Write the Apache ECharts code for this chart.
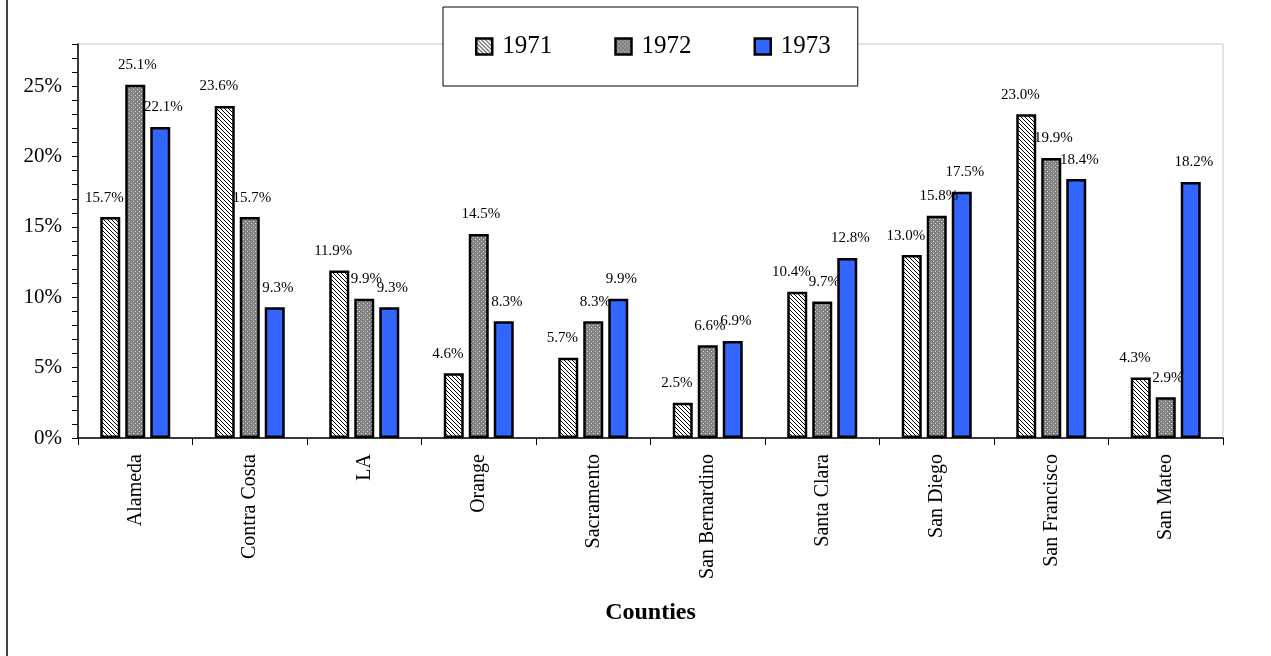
<!DOCTYPE html>
<html>
<head>
<meta charset="utf-8">
<title>Counties 1971-1973</title>
<script src="https://cdn.jsdelivr.net/npm/echarts@6/dist/echarts.min.js"></script>
<style>
  html, body { margin: 0; padding: 0; background: #fff; }
  #chart { width: 1271px; height: 656px; }
</style>
</head>
<body>
<div id="chart"></div>
<script>
// County names along the x axis
const counties = ['Alameda', 'Contra Costa', 'LA', 'Orange', 'Sacramento',
  'San Bernardino', 'Santa Clara', 'San Diego', 'San Francisco', 'San Mateo'];

// Percent values per year
const years = ['1971', '1972', '1973'];
const values1971 = [15.7, 23.6, 11.9, 4.6, 5.7, 2.5, 10.4, 13.0, 23.0, 4.3];
const values1972 = [25.1, 15.7, 9.9, 14.5, 8.3, 6.6, 9.7, 15.8, 19.9, 2.9];
const values1973 = [22.1, 9.3, 9.3, 8.3, 9.9, 6.9, 12.8, 17.5, 18.4, 18.2];

// Y axis range (percent)
const yMin = 0, yMax = 28, yStep = 1, yLabelEvery = 5;

const SERIF = '"Liberation Serif", "Times New Roman", Times, serif';

// Diagonal hatch: white ground with 1px black "\" lines
function hatchPattern() {
  const c = document.createElement('canvas');
  c.width = 4; c.height = 4;
  const g = c.getContext('2d');
  g.fillStyle = '#fff';
  g.fillRect(0, 0, 4, 4);
  g.fillStyle = '#000';
  for (let i = 0; i < 4; i++) g.fillRect(i, i, 1, 1);
  return c;
}

// Gray ground with small white dots
function dotPattern() {
  const c = document.createElement('canvas');
  c.width = 4; c.height = 4;
  const g = c.getContext('2d');
  g.fillStyle = '#808080';
  g.fillRect(0, 0, 4, 4);
  g.fillStyle = '#e0e0e0';
  g.fillRect(1, 1, 1, 1);
  g.fillRect(3, 3, 1, 1);
  return c;
}

const fills = [
  { image: hatchPattern(), repeat: 'repeat' },
  { image: dotPattern(), repeat: 'repeat' },
  '#3366FF'
];
const seriesValues = [values1971, values1972, values1973];
const labelShift = [[-6, 0], [2, 0], [3, 0]];

const chart = echarts.init(document.getElementById('chart'), null, { renderer: 'canvas' });

const option = {
  animation: false,
  backgroundColor: '#fff',
  textStyle: { fontFamily: SERIF, color: '#000' },
  grid: {
    left: 78, right: 48, top: 44, bottom: 218,
    show: true, borderColor: '#c8c8c8', borderWidth: 1,
    backgroundColor: 'transparent'
  },
  legend: {
    left: 443, top: 7,
    padding: [27, 27, 27, 32],
    itemGap: 62,
    itemWidth: 16, itemHeight: 16,
    backgroundColor: '#fff',
    borderColor: '#000', borderWidth: 1,
    icon: 'rect',
    itemStyle: { borderColor: '#000', borderWidth: 2.5 },
    textStyle: { fontFamily: SERIF, fontSize: 25, color: '#000', padding: [0, 0, 0, 5] },
    data: years
  },
  xAxis: {
    type: 'category',
    data: counties,
    name: 'Counties',
    nameLocation: 'middle',
    nameGap: 163,
    nameTextStyle: { fontFamily: SERIF, fontSize: 24, fontWeight: 'bold', color: '#000' },
    axisLine: { lineStyle: { color: '#000', width: 1.5 } },
    axisTick: { show: true, length: 7, lineStyle: { color: '#000' }, alignWithLabel: false },
    axisLabel: {
      rotate: 90, margin: 16,
      fontFamily: SERIF, fontSize: 20, color: '#000', interval: 0
    },
    splitLine: { show: false }
  },
  yAxis: {
    type: 'value',
    min: yMin, max: yMax, interval: yStep,
    axisLine: { show: true, lineStyle: { color: '#000', width: 1.5 } },
    axisTick: { show: true, length: 6, lineStyle: { color: '#000' } },
    axisLabel: {
      margin: 16,
      fontFamily: SERIF, fontSize: 21, color: '#000',
      formatter: v => (v % yLabelEvery === 0 ? v + '%' : '')
    },
    splitLine: { show: false }
  },
  series: years.map((y, i) => ({
    name: y,
    type: 'bar',
    data: seriesValues[i],
    barWidth: 20,
    barGap: '25%',
    itemStyle: { color: fills[i], borderColor: '#000', borderWidth: 2.5 },
    label: {
      show: true,
      position: 'top',
      distance: 12,
      offset: labelShift[i],
      fontFamily: SERIF,
      fontSize: 15,
      color: '#000',
      formatter: p => p.value.toFixed(1) + '%'
    }
  })),
  graphic: [{
    type: 'line',
    shape: { x1: 7, y1: 0, x2: 7, y2: 656 },
    style: { stroke: '#000', lineWidth: 1.5 },
    silent: true
  }]
};

chart.setOption(option);
</script>
</body>
</html>
